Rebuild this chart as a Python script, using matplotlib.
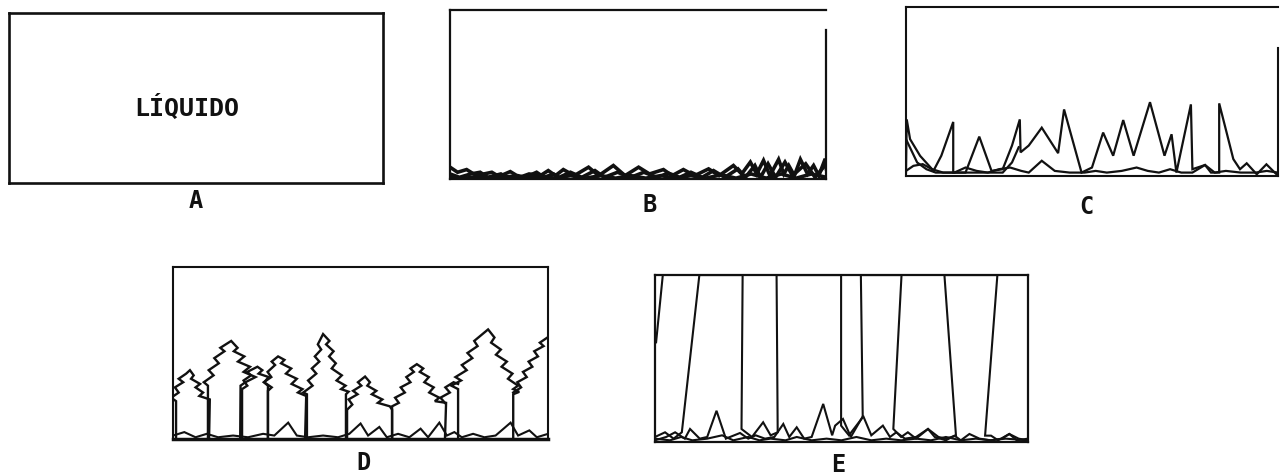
import matplotlib
matplotlib.use("Agg")
import matplotlib.pyplot as plt
import numpy as np

# ---- panel B: low noisy traces along the bottom
b1 = [(0, 7), (2, 4), (4.4, 5.6), (7, 2), (9, 3), (11.1, 4), (13, 1.5), (16, 4.4), (18.5, 1), (21, 3),
      (24, 2), (26.1, 5), (28, 2), (30.1, 5.6), (33, 2), (36.8, 7), (39.5, 2), (43.4, 8), (46.5, 2),
      (50.1, 7), (53, 3), (56.7, 5.6), (59, 2), (62, 5.6), (65, 2), (68.7, 6), (71.5, 2), (75.3, 8),
      (77.5, 3), (79.8, 10), (81.5, 3), (83.3, 11), (85, 2), (87.3, 11.6), (88.7, 3), (90, 8), (91.5, 2),
      (93.1, 11.6), (95, 3), (96.6, 8), (98, 2), (99.7, 12), (100, 6)]
b2 = [(0, 3), (2.5, 1), (5.5, 3), (8, 4), (10, 1), (13.5, 3), (15, 1), (18, 2), (20, 1), (23, 4),
      (25, 1), (27.5, 3), (29, 1), (32, 4), (35, 1), (38.5, 5), (41, 1), (44.5, 4), (48, 1), (51.5, 4),
      (55, 1), (58, 3.5), (61, 1), (64, 4), (67, 1), (70, 5), (73, 1), (76.5, 6), (78.5, 1), (81, 8),
      (82.5, 1), (84.5, 9), (86.5, 1), (89, 10), (91, 2), (94.5, 9), (97, 1), (100, 9)]
b3 = [(0, 1), (4, 0.5), (8, 1.5), (12, 0.5), (16, 1.5), (20, 0.5), (24, 1.5), (28, 0.5), (32, 2),
      (36, 0.5), (40, 2), (44, 0.5), (48, 2), (52, 0.5), (56, 2), (60, 0.5), (64, 2), (68, 0.5),
      (72, 2.5), (76, 0.5), (80, 3), (84, 0.5), (88, 3), (92, 0.5), (96, 3), (100, 1)]

# ---- panel C: spiky trace and a low trace
c1 = [(0, 2), (0.2, 33.5), (1.1, 21.8), (3.8, 11.9), (7.4, 3.1), (9.5, 12), (12.7, 32), (12.7, 2),
      (16, 2), (19.7, 23.3), (23, 3), (26, 4), (28.5, 18), (30.6, 33.5), (30.8, 14), (33, 18),
      (36.5, 28.6), (40.9, 13.5), (42.5, 39.4), (47.2, 2), (50, 5), (53, 25.7), (55.7, 12),
      (58.4, 33.1), (61.2, 12), (65.6, 43.7), (69.5, 12), (71.4, 24.7), (72.7, 2), (76.6, 42.4),
      (77, 4), (80.4, 6.5), (82, 2), (84.2, 2), (84.2, 43), (86.2, 25.7), (88, 10), (89.8, 4),
      (91.6, 7.5), (94.3, 1), (96.9, 6.9), (99.6, 1), (100, 2)]
c2 = [(0, 3), (2, 6), (4.5, 7), (7, 4), (10, 2), (13, 2), (16, 5), (19, 3), (22, 2), (25, 4),
      (28, 5), (31, 3), (33, 2), (36.5, 9), (40, 3), (44, 2), (48, 2), (51, 3), (54, 2), (58, 3),
      (62, 5), (65, 3), (68, 2), (71, 4), (74, 2), (77, 2), (80.4, 6.5), (83, 2), (86, 3), (90, 2),
      (94, 2), (97, 3), (100, 2)]
c3 = [(0, 21.8), (3, 8), (5.5, 4), (8, 2), (26, 2), (28.5, 8), (30.3, 17)]

# ---- panel D: tree-shaped outlines
d_tree1 = [(0.8, 0), (0.8, 22), (-0.5, 24), (1.5, 27), (0.5, 30), (2.7, 33), (1.5, 35), (3.5, 38), (4.5, 40),
           (5.5, 37), (4.8, 35), (7.2, 32), (6.0, 30), (8.0, 27), (7.0, 25), (9.8, 23), (9.6, 0)]
d_tree2 = [(9.3, 0), (9.3, 31), (8.2, 33), (10.8, 37), (9.5, 40), (12.2, 44), (11.0, 47), (13.7, 51),
           (12.6, 53), (15.5, 57), (17.2, 53), (16.2, 51), (19.0, 48), (17.3, 45), (20.5, 42), (18.8, 39),
           (22.0, 36), (19.3, 33), (18, 31), (17.9, 0)]
d_tree3 = [(18.4, 0), (18.4, 29), (19.8, 31), (18.8, 34), (20.8, 37), (19.8, 39), (22.5, 42), (23.8, 40),
           (22.8, 38), (25.5, 36), (24.3, 33), (26.3, 30), (25.3, 28), (25.3, 0)]
d_tree4 = [(25.3, 0), (25.3, 31), (24.2, 33), (26.2, 36), (25.2, 39), (27.2, 43), (26.3, 45), (28, 48),
           (29.7, 46), (28.8, 44), (31.5, 41), (30.1, 38), (33.0, 35), (31.6, 32), (34.5, 29), (33.3, 27),
           (35.5, 25), (35.2, 0)]
d_tree5 = [(35.7, 0), (35.7, 26), (34.7, 27), (37.2, 31), (36.0, 34), (38.2, 38), (37.0, 41), (39.0, 45),
           (37.8, 48), (39.5, 52), (38.6, 55), (40, 61), (41.7, 57), (40.8, 55), (42.8, 51), (41.6, 48),
           (43.4, 44), (42.3, 41), (45.0, 37), (43.6, 34), (46.0, 31), (44.8, 29), (46.8, 27.5), (46.1, 26),
           (46.1, 0)]
d_tree6 = [(46.4, 0), (46.4, 17), (47.8, 20), (46.8, 23), (49.2, 26), (48.0, 28), (50.2, 31), (49.3, 33),
           (51.2, 36.3), (52.5, 33), (51.8, 31), (54.2, 28), (53.0, 26), (55.8, 23), (54.6, 21),
           (57.8, 19), (58.4, 17), (58.4, 0)]
d_tree7 = [(58.4, 0), (58.4, 19), (60.2, 21), (59.2, 24), (61.8, 27), (60.7, 30), (63.3, 33), (62.2, 36),
           (64.2, 39), (63.3, 41), (65, 43.5), (66.7, 41), (65.8, 39), (68.2, 36), (67.0, 33), (69.5, 30),
           (68.3, 27), (71.0, 24), (69.8, 22), (72.8, 21), (72.5, 0)]
d_tree8 = [(76, 0), (76, 29), (74.2, 31), (76.8, 34), (75.3, 36), (78.3, 40), (77.0, 43), (79.8, 47),
           (78.5, 50), (81.2, 54), (80.3, 57), (84, 63.7), (85.7, 59), (84.8, 56), (87.4, 52), (86.1, 49),
           (89.0, 45), (87.6, 42), (90.5, 38), (89.3, 35), (92.0, 31), (90.7, 29), (92.3, 27.4),
           (90.7, 26), (90.7, 0)]
d_tree9 = [(90.7, 27), (92.8, 30), (91.8, 33), (94.3, 36), (93.3, 39), (95.8, 42), (94.8, 45), (97.3, 48),
           (96.3, 51), (98.8, 54), (97.8, 56), (100.5, 60), (102, 58)]
d_branch = [(72.5, 21), (71.3, 24), (73.8, 27), (72.6, 30), (74.8, 33), (76, 32)]
d_trees = [d_tree1, d_tree2, d_tree3, d_tree4, d_tree5, d_tree6, d_tree7, d_tree8, d_tree9, d_branch]
d_ground = [(0, 2), (3, 4), (6, 1), (9, 3), (12, 1), (16, 2), (20, 1), (24, 3), (27, 2), (30.7, 9.5),
            (33, 2), (36, 1), (40, 2), (44, 1), (47, 3), (50, 9), (52, 2), (55, 7), (57, 1), (60, 3),
            (63, 1), (66, 6), (68, 1), (71, 9.5), (73, 2), (75, 4), (77, 1), (80, 3), (83, 1), (86, 2),
            (90, 9.5), (92, 2), (95, 5), (97, 1), (100, 3)]

# ---- panel E: trace hitting the top of the scale, plus low bumps
e1 = [(0, 3), (2.7, 5.8), (5, 2), (7.2, 5.8), (11.9, 100), (23.5, 100), (23.2, 7.8), (26, 3),
      (29, 11.8), (31, 4), (32.9, 5.8), (32.6, 100), (49.9, 100), (49.9, 9.8), (52, 4), (55.7, 14.8),
      (55.2, 100), (66.1, 100), (63.9, 7.8), (66, 3), (67.8, 5.8), (70, 2), (73.2, 7.8), (76, 3),
      (78, 2), (80.7, 3.8), (77.6, 100), (91.8, 100), (88.5, 3.8), (90.1, 3.8), (92, 1), (95, 4.8),
      (97, 1), (100, 2)]
e2 = [(0, 1), (3, 3), (5.4, 5.8), (8, 2), (9.4, 7.8), (12, 2), (14, 3), (16.5, 18.7), (19, 2),
      (22.8, 5.4), (25, 2), (27, 4), (29.5, 2), (32, 3), (34.4, 10.8), (36, 3), (38, 8.8), (40, 2),
      (42, 3), (45.1, 22.8), (47.5, 4), (48.3, 9.8), (50.4, 13.8), (52.5, 3), (55.8, 15.7), (58, 4),
      (61.1, 9.8), (63, 3), (64.7, 5.8), (67, 2), (70, 3), (73.2, 7.8), (75, 3), (78, 1), (80.3, 3.8),
      (82, 1), (84.3, 4.8), (87, 2), (90, 1), (93, 2), (95, 4.8), (97.5, 2), (100, 1)]
e3 = [(0, 2), (4, 1), (7, 3), (10, 1), (14, 2), (18, 4), (21, 1), (25, 3), (28, 1), (31, 2), (35, 1),
      (38, 3), (42, 1), (46, 2), (50, 1), (54, 3), (58, 1), (62, 2), (66, 1), (70, 2), (74, 1),
      (78, 3), (82, 1), (86, 2), (90, 1), (94, 2), (100, 1)]
e_edge = [(0.3, 59.7), (2.1, 100)]

panel_labels = ["A", "B", "C", "D", "E"]
liquid_text = "LÍQUIDO"

ink = "#111111"
mono = "DejaVu Sans Mono"


def frame(ax, lw=1.5):
    ax.set_xlim(0, 100)
    ax.set_ylim(0, 100)
    ax.set_xticks([])
    ax.set_yticks([])
    for s in ax.spines.values():
        s.set_linewidth(lw)
        s.set_color(ink)


def trace(ax, pts, lw):
    arr = np.array(pts, dtype=float)
    ax.plot(arr[:, 0], arr[:, 1], color=ink, lw=lw, solid_joinstyle="miter")


fig = plt.figure(figsize=(12.8, 4.77), dpi=100)
fig.patch.set_facecolor("white")

# A
axA = fig.add_axes([0.0070, 0.614, 0.292, 0.356])
frame(axA, 1.9)
axA.text(0.477, 0.45, liquid_text, transform=axA.transAxes, ha="center", va="center",
         fontsize=18, fontweight="bold", family=mono, color=ink)

# B
axB = fig.add_axes([0.3516, 0.6226, 0.294, 0.354])
frame(axB, 1.6)
axB.spines["right"].set_bounds(0, 88)
for s in (b3, b2, b1):
    trace(axB, s, 2.6)

# C
axC = fig.add_axes([0.7078, 0.629, 0.2906, 0.354])
frame(axC, 1.5)
axC.spines["right"].set_bounds(0, 76)
for s in (c2, c3, c1):
    trace(axC, s, 1.6)

# D
axD = fig.add_axes([0.1352, 0.0776, 0.293, 0.3606])
frame(axD, 1.5)
axD.spines["bottom"].set_linewidth(2.5)
trace(axD, d_ground, 1.5)
for t in d_trees:
    trace(axD, t, 1.7)

# E
axE = fig.add_axes([0.5117, 0.0713, 0.2914, 0.350])
frame(axE, 1.6)
for s in (e3, e2, e1, e_edge):
    trace(axE, s, 1.5)

# panel letters under each box
label_pos = [(196, 201), (650, 205), (1086, 207), (363, 463), (838, 465)]
for lab, (px, py) in zip(panel_labels, label_pos):
    fig.text(px / 1280, 1 - py / 477, lab, ha="center", va="center",
             fontsize=17, fontweight="bold", family=mono, color=ink)

fig.savefig("out.png", dpi=100, facecolor="white")
